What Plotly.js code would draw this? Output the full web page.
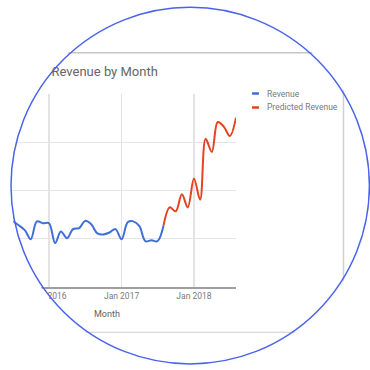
<!DOCTYPE html>
<html>
<head>
<meta charset="utf-8">
<script src="https://cdn.plot.ly/plotly-3.0.1.min.js"></script>
<style>
  html, body { margin: 0; padding: 0; background: #ffffff; }
  #plot { width: 370px; height: 370px; clip-path: circle(180.6px at 190.2px 185.6px); }
</style>
</head>
<body>
<div id="plot"></div>
<script>
// ---- data (revenue, thousands) ----
var actualMonths = ['2015-06-01','2015-07-01','2015-08-01','2015-09-01','2015-10-01','2015-11-01','2015-12-01',
  '2016-01-01','2016-02-01','2016-03-01','2016-04-01','2016-05-01','2016-06-01','2016-07-01','2016-08-01',
  '2016-09-01','2016-10-01','2016-11-01','2016-12-01','2017-01-01','2017-02-01','2017-03-01','2017-04-01',
  '2017-05-01','2017-06-01','2017-07-01','2017-08-01'];
var actualRevenue = [13.0, 13.6, 12.8, 11.8, 9.9, 13.6, 13.2,
  13.2, 9.1, 11.5, 10.1, 12.0, 12.2, 13.7, 13.0, 11.1,
  10.9, 11.3, 12.0, 9.9, 13.4, 13.6, 12.6, 9.5,
  9.7, 9.5, 12.8];
var predictedMonths = ['2017-08-01','2017-09-01','2017-10-01','2017-11-01','2017-12-01','2018-01-01','2018-02-01',
  '2018-03-01','2018-04-01','2018-05-01','2018-06-01','2018-07-01','2018-08-01'];
var predictedRevenue = [12.8, 16.5, 15.7, 19.2, 16.5, 22.5, 18.1, 30.7, 28.0, 34.2, 33.2, 31.3, 35.1];
var seriesNames = ['Revenue', 'Predicted Revenue'];
var seriesColors = ['#3e6fd8', '#e4441d'];
var tickVals = ['2016-01-01', '2017-01-01', '2018-01-01'];
var tickText = ['Jan 2016', 'Jan 2017', 'Jan 2018'];
var chartTitle = 'Revenue by Month';
var xTitle = 'Month';

// ---- pixel helpers (plot area: x 0..236, y 93.5..287.5) ----
var PW = 236, PTOP = 93.5, PBOT = 287.5;
function px(p) { return p / PW; }
function py(p) { return (PBOT - p) / (PBOT - PTOP); }

var traces = [
  { x: actualMonths, y: actualRevenue, name: seriesNames[0], type: 'scatter', mode: 'lines',
    line: { color: seriesColors[0], width: 2, shape: 'spline', smoothing: 1 }, hoverinfo: 'skip' },
  { x: predictedMonths, y: predictedRevenue, name: seriesNames[1], type: 'scatter', mode: 'lines',
    line: { color: seriesColors[1], width: 2, shape: 'spline', smoothing: 1 }, hoverinfo: 'skip' }
];

var shapes = [
  // card border lines
  { type: 'line', xref: 'paper', yref: 'paper', x0: px(-20), x1: px(343.5), y0: py(52), y1: py(52),
    line: { color: '#c6c6c6', width: 1.5 }, layer: 'below' },
  { type: 'line', xref: 'paper', yref: 'paper', x0: px(343.5), x1: px(343.5), y0: py(52), y1: py(333),
    line: { color: '#cfcfcf', width: 1.5 }, layer: 'below' },
  { type: 'line', xref: 'paper', yref: 'paper', x0: px(-20), x1: px(343.5), y0: py(333), y1: py(333),
    line: { color: '#cccccc', width: 1.2 }, layer: 'below' },
  // legend swatches
  { type: 'line', xref: 'paper', yref: 'paper', x0: px(252), x1: px(259), y0: py(93), y1: py(93),
    line: { color: seriesColors[0], width: 2.5 } },
  { type: 'line', xref: 'paper', yref: 'paper', x0: px(252), x1: px(259), y0: py(107), y1: py(107),
    line: { color: seriesColors[1], width: 2.5 } },
  // circular frame
  { type: 'circle', xref: 'paper', yref: 'paper', x0: px(11), x1: px(369.4), y0: py(364.8), y1: py(6.4),
    line: { color: '#4a63ef', width: 1.5 }, layer: 'above' }
];

var annotations = [
  { text: seriesNames[0], xref: 'paper', yref: 'paper', x: px(265), y: py(93), xanchor: 'left', yanchor: 'middle',
    showarrow: false, font: { family: 'Roboto, Arial, sans-serif', size: 8.5, color: '#7a7a7a' } },
  { text: seriesNames[1], xref: 'paper', yref: 'paper', x: px(265), y: py(107), xanchor: 'left', yanchor: 'middle',
    showarrow: false, font: { family: 'Roboto, Arial, sans-serif', size: 8.5, color: '#7a7a7a' } },
  { text: xTitle, xref: 'paper', yref: 'paper', x: px(106.5), y: py(315), xanchor: 'center', yanchor: 'middle',
    showarrow: false, font: { family: 'Roboto, Arial, sans-serif', size: 9, color: '#616161' } }
];

var layout = {
  width: 370, height: 370,
  margin: { l: 0, r: 370 - PW, t: PTOP, b: 370 - PBOT, pad: 0 },
  paper_bgcolor: '#ffffff', plot_bgcolor: '#ffffff',
  showlegend: false,
  title: { text: chartTitle, xref: 'container', yref: 'container', x: 51.5 / 370, y: 1 - 71.8 / 370,
    xanchor: 'left', yanchor: 'middle', font: { family: 'Roboto, Arial, sans-serif', size: 13, color: '#666666' } },
  xaxis: {
    type: 'date', range: ['2015-04-29', '2018-08-01'],
    tickmode: 'array', tickvals: tickVals, ticktext: tickText,
    showgrid: true, gridcolor: '#e3e3e3', gridwidth: 1.5,
    showline: true, linecolor: '#9e9e9e', linewidth: 1.5,
    ticks: '', zeroline: false, fixedrange: true,
    tickfont: { family: 'Roboto, Arial, sans-serif', size: 8.5, color: '#7a7a7a' }
  },
  yaxis: {
    range: [0, 40], dtick: 10, tick0: 0,
    showgrid: true, gridcolor: '#e6e6e6', gridwidth: 1,
    showticklabels: false, ticks: '', zeroline: false, showline: false, fixedrange: true
  },
  shapes: shapes,
  annotations: annotations
};

Plotly.newPlot('plot', traces, layout, { staticPlot: true, displayModeBar: false });
</script>
</body>
</html>
